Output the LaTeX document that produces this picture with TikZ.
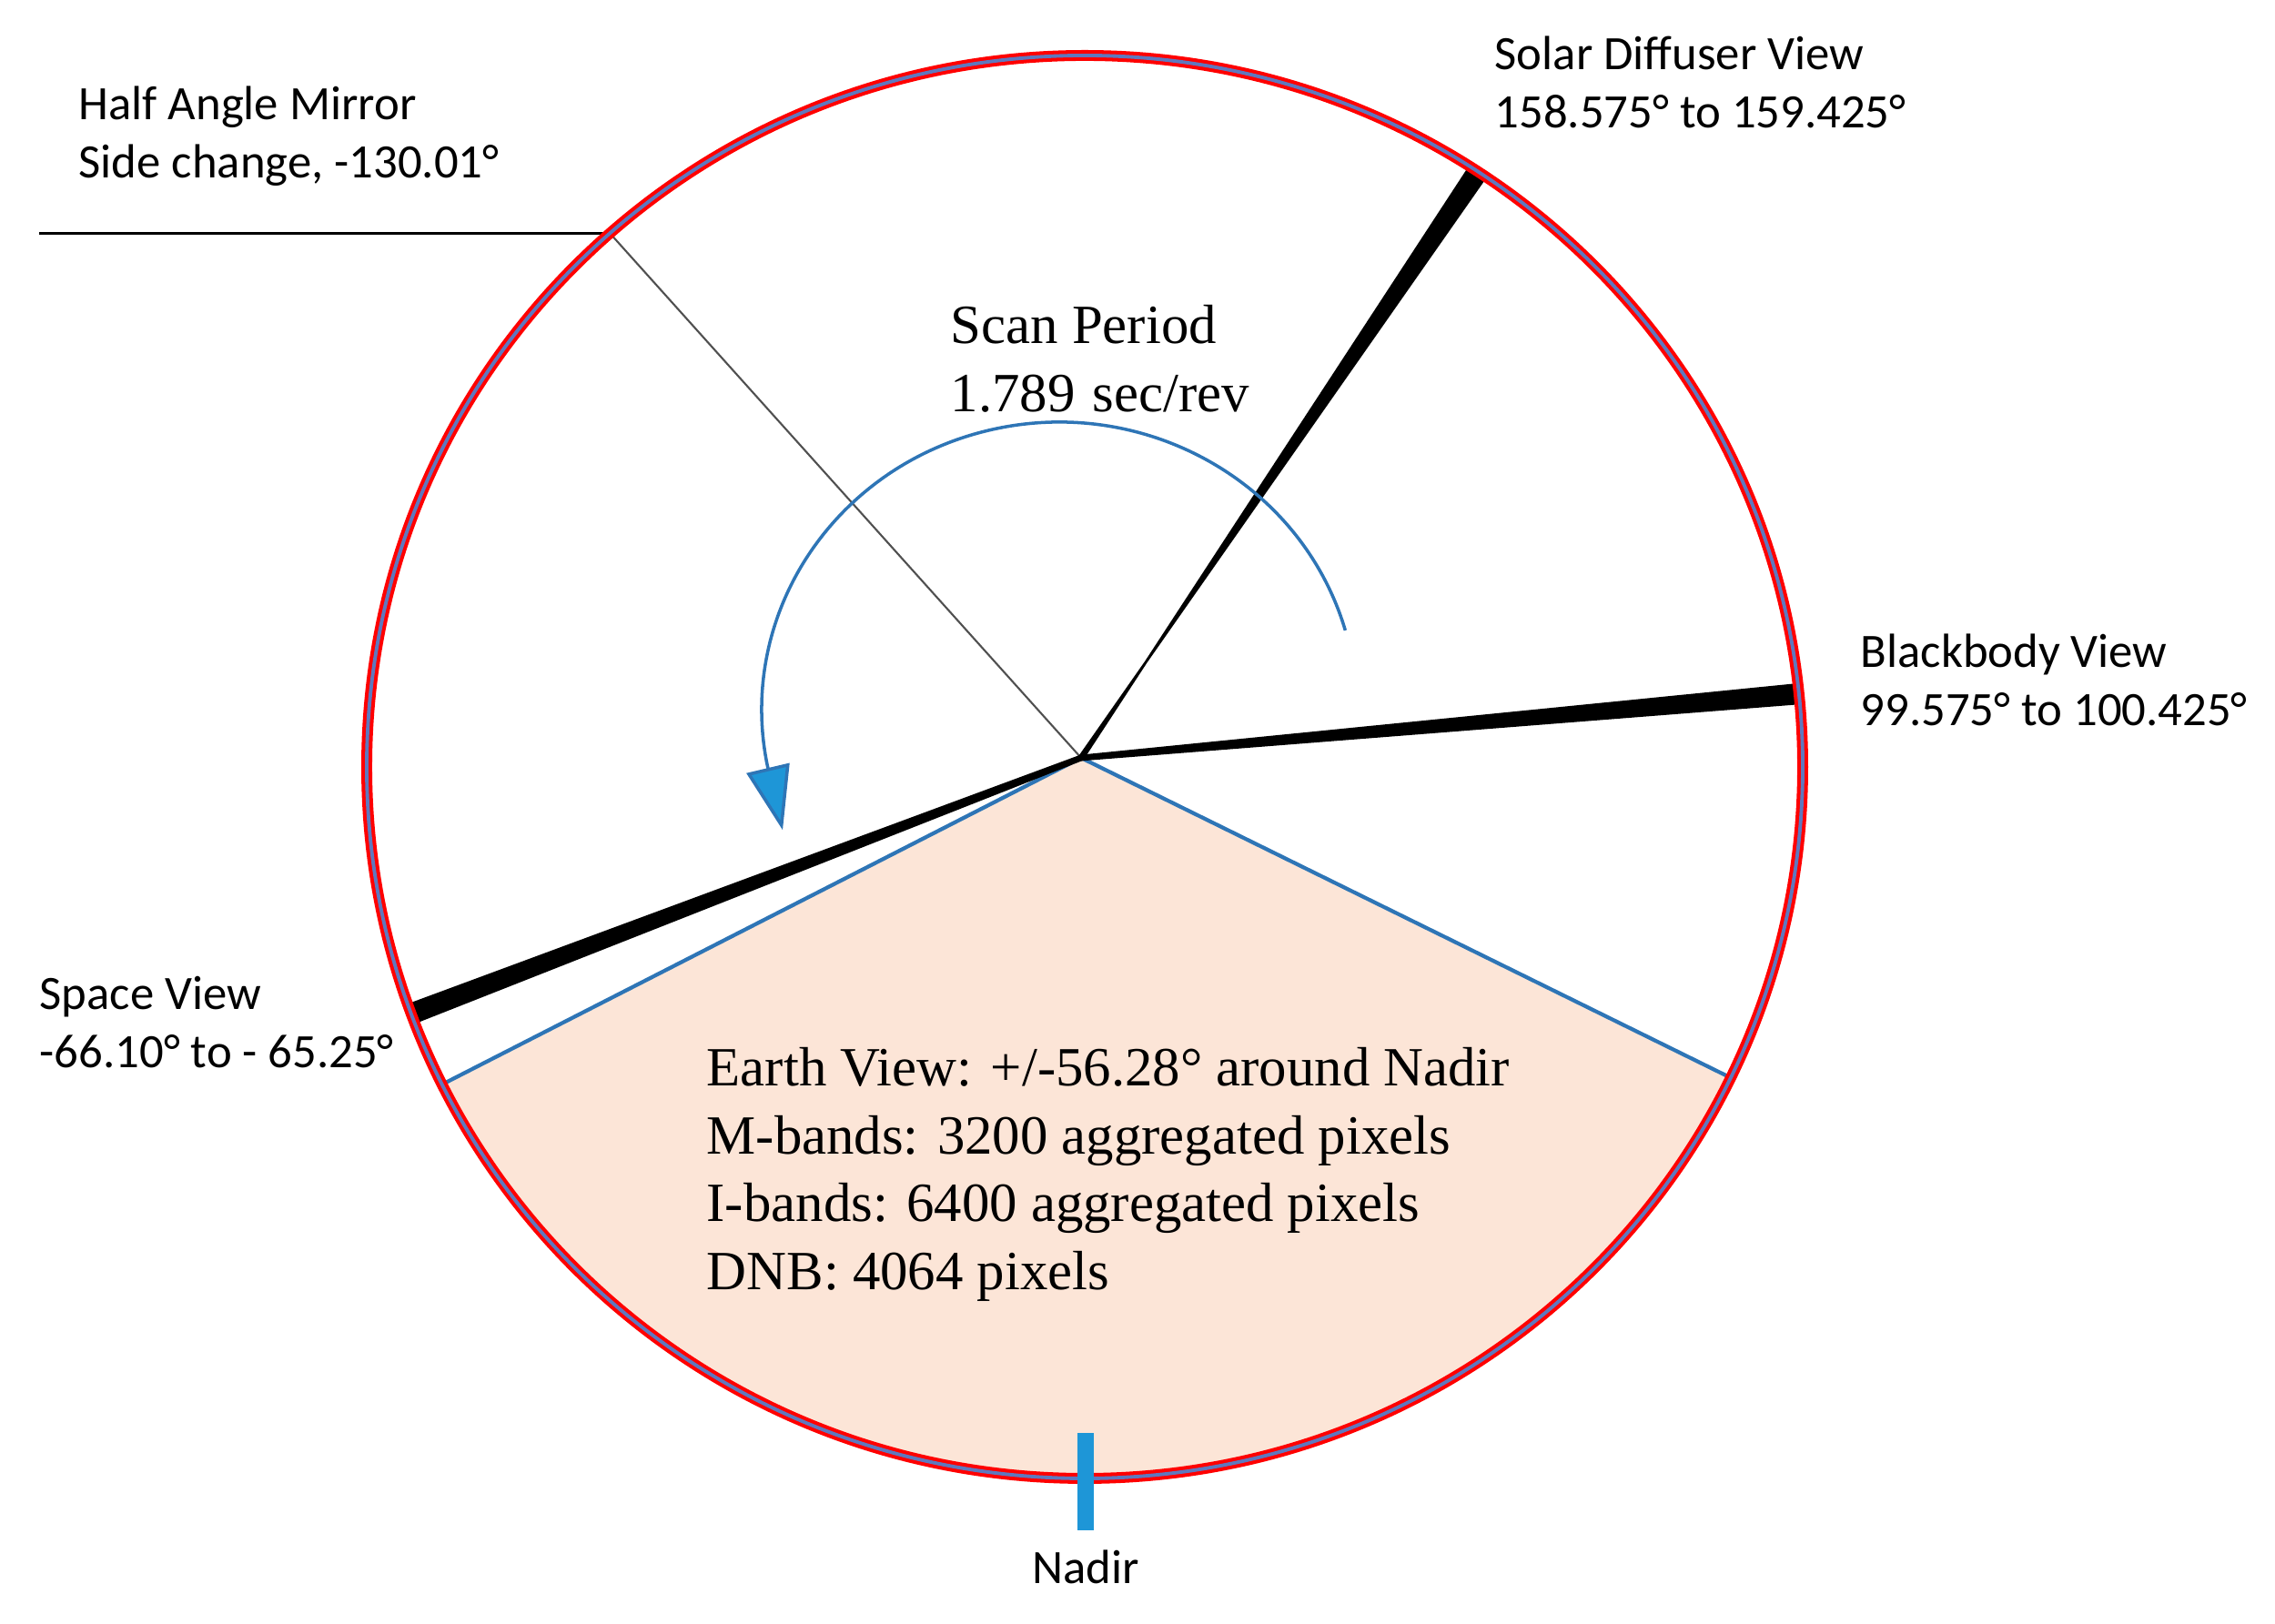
\documentclass[tikz,border=0pt]{standalone}
\usepackage{fontspec}
\setmainfont{Liberation Serif}
\newfontfamily\calib{Carlito}
\usetikzlibrary{arrows.meta,calc}
\definecolor{ringred}{RGB}{255,0,0}
\definecolor{ringblue}{RGB}{95,120,190}
\definecolor{earthfill}{RGB}{252,229,215}
\definecolor{edgeblue}{RGB}{46,117,182}
\definecolor{tipblue}{RGB}{30,150,215}
\definecolor{mirrorgray}{RGB}{80,80,80}
\begin{document}
\begin{tikzpicture}[
  lbl/.style={font=\calib\fontsize{15}{18.2}\selectfont, align=left, anchor=north west, inner sep=0pt},
  serif/.style={font=\fontsize{17.3}{21.2}\selectfont, align=left, anchor=north west, inner sep=0pt},
  wedgebar/.style={fill=black, draw=black, line width=0.8pt, line join=round},
  edgeline/.style={edgeblue, line width=1.2pt},
]
\useasboundingbox (0,0) rectangle (25,17.85);
\coordinate (C) at (11.92,9.42);
\coordinate (hub) at (11.88,9.52);
% rim points
\coordinate (evL) at ($(C)+(206.5:7.89 and 7.82)$);
\coordinate (evR) at ($(C)+(334.1:7.89 and 7.82)$);
\coordinate (sd1) at ($(C)+(56.05:7.89 and 7.82)$);
\coordinate (sd2) at ($(C)+(57.55:7.89 and 7.82)$);
\coordinate (bb1) at ($(C)+(5.15:7.89 and 7.82)$);
\coordinate (bb2) at ($(C)+(6.65:7.89 and 7.82)$);
\coordinate (sv1) at ($(C)+(199.55:7.89 and 7.82)$);
\coordinate (sv2) at ($(C)+(201.05:7.89 and 7.82)$);
\coordinate (hm) at ($(C)+(131.4:7.89 and 7.82)$);
\coordinate (hmEnd) at (0.43,0 |- hm);
% earth view sector
\fill[earthfill] (hub) -- (evL) arc[start angle=206.5, end angle=334.1, x radius=7.89, y radius=7.82] -- cycle;
\draw[edgeline, line join=round] (evL) -- (hub) -- (evR);
% half angle mirror line
\draw[mirrorgray, line width=0.6pt] (hub) -- (hm);
\draw[black, line width=0.7pt] (hmEnd) -- (hm);
% view wedges (slightly widened at the hub)
\filldraw[wedgebar] ($(hub)+(146.8:0.02)$) -- (sd1) -- (sd2) -- ($(hub)+(-33.2:0.02)$) -- cycle;
\filldraw[wedgebar] ($(hub)+(95.9:0.02)$) -- (bb2) -- (bb1) -- ($(hub)+(-84.1:0.02)$) -- cycle;
\filldraw[wedgebar] ($(hub)+(110.3:0.02)$) -- (sv1) -- (sv2) -- ($(hub)+(-69.7:0.02)$) -- cycle;
% ring
\draw[ringred, line width=3.4pt] (C) ellipse[x radius=7.89, y radius=7.82];
\draw[ringblue, line width=1.1pt] (C) ellipse[x radius=7.89, y radius=7.82];
% nadir tick
\node[fill=tipblue, minimum width=0.18cm, minimum height=1.07cm, inner sep=0pt] (tick) at (11.93,1.565) {};
% scan arrow
\coordinate (sa0) at ($(11.64,10.05)+(16:3.27 and 3.16)$);
\draw[edgeline, line width=1pt, -{Triangle[length=7mm, width=4.8mm, fill=tipblue]}] (sa0) arc[start angle=16, end angle=191, x radius=3.27, y radius=3.16] -- ++(0.17,-0.72);
% labels
\node[lbl] (hamlbl) at (0.86,16.91) {Half Angle Mirror\\Side change, -130.01°};
\node[lbl] (sdlbl) at (16.42,17.46) {Solar Diffuser View\\158.575° to 159.425°};
\node[lbl] (bblbl) at (20.44,10.89) {Blackbody View\\99.575° to 100.425°};
\node[lbl] (svlbl) at (0.43,7.12) {Space View\\-66.10° to - 65.25°};
\node[font=\calib\fontsize{15}{18.2}\selectfont, inner sep=0pt] (nadirlbl) at (11.93,0.63) {Nadir};
\node[serif] (scan) at (10.44,14.50) {Scan Period\\1.789\hskip 5.5pt sec/rev};
\node[serif] (earth) at (7.76,6.34) {Earth View: +/-56.28° around Nadir\\M-bands: 3200 aggregated pixels\\I-bands: 6400 aggregated pixels\\DNB: 4064 pixels};
\end{tikzpicture}
\end{document}
